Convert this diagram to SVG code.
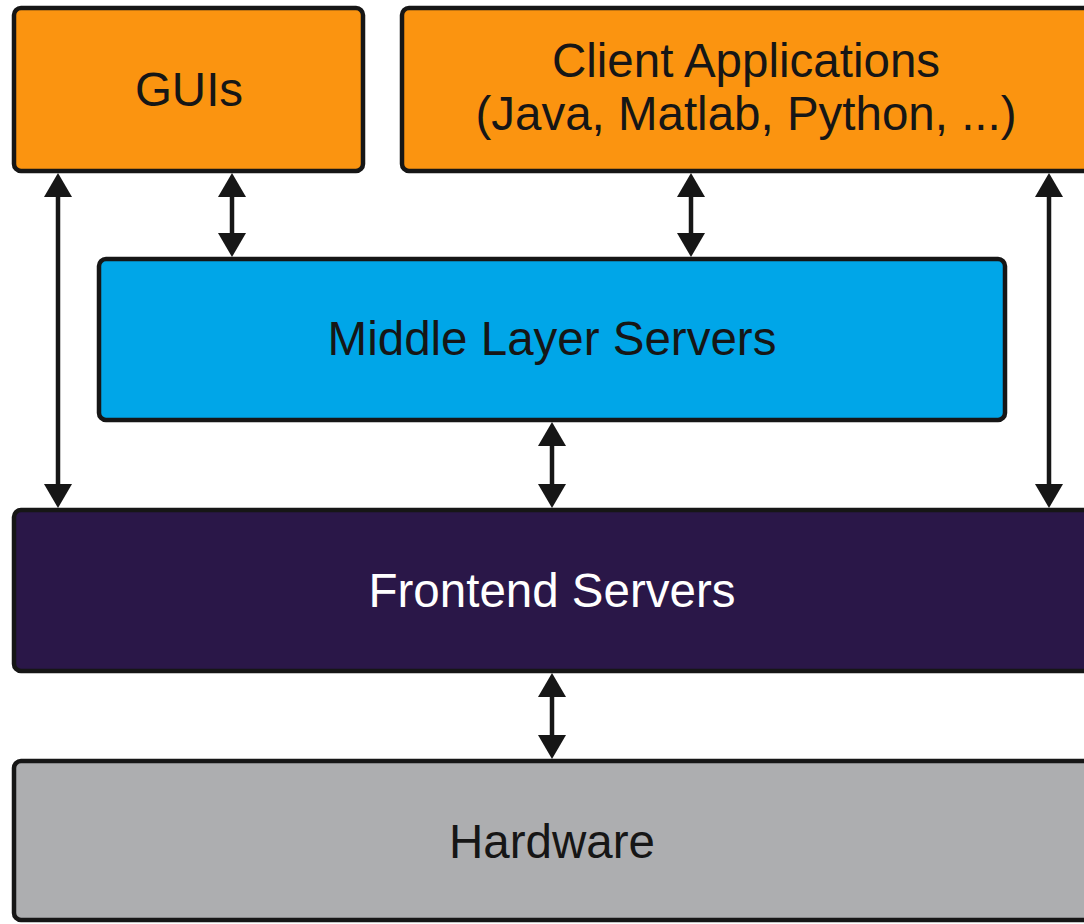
<svg xmlns="http://www.w3.org/2000/svg" width="1084" height="924" viewBox="0 0 1084 924">
  <style>
    .box { stroke: #161616; stroke-width: 4.5; }
    .orange { fill: #FB9410; }
    .blue { fill: #00A6E8; }
    .purple { fill: #2A1748; }
    .grey { fill: #ADAEB0; }
    .label { font-family: "Liberation Sans", Arial, sans-serif; font-size: 47.5px; text-anchor: middle; fill: #161616; }
    .light { fill: #FFFFFF; }
    .link { stroke: #161616; stroke-width: 4.5; fill: none; marker-start: url(#head); marker-end: url(#head); }
  </style>
  <defs>
    <marker id="head" viewBox="0 0 24 28" refX="14" refY="14" markerWidth="24" markerHeight="28" markerUnits="userSpaceOnUse" orient="auto-start-reverse">
      <path d="M0,0 L24,14 L0,28 Z" fill="#161616"/>
    </marker>
  </defs>
  <rect width="1084" height="924" fill="#FFFFFF"/>

  <g id="connectors">
    <path class="link" d="M58,183 L58,498"/>
    <path class="link" d="M232,183 L232,247"/>
    <path class="link" d="M691,183 L691,247"/>
    <path class="link" d="M1049,183 L1049,498"/>
    <path class="link" d="M552,432 L552,498"/>
    <path class="link" d="M552,683 L552,749"/>
  </g>

  <g id="guis">
    <rect class="box orange" x="14" y="8" width="349" height="163" rx="7"/>
    <text class="label" x="189" y="106">GUIs</text>
  </g>

  <g id="client-applications">
    <rect class="box orange" x="402" y="8" width="700" height="163" rx="7"/>
    <text class="label" x="746" y="77">Client Applications</text>
    <text class="label" x="746" y="130">(Java, Matlab, Python, ...)</text>
  </g>

  <g id="middle-layer-servers">
    <rect class="box blue" x="99" y="259" width="906" height="161" rx="7"/>
    <text class="label" x="552" y="355">Middle Layer Servers</text>
  </g>

  <g id="frontend-servers">
    <rect class="box purple" x="14" y="510" width="1090" height="161" rx="7"/>
    <text class="label light" x="552" y="607">Frontend Servers</text>
  </g>

  <g id="hardware">
    <rect class="box grey" x="14" y="761" width="1090" height="159" rx="7"/>
    <text class="label" x="552" y="858">Hardware</text>
  </g>
</svg>
